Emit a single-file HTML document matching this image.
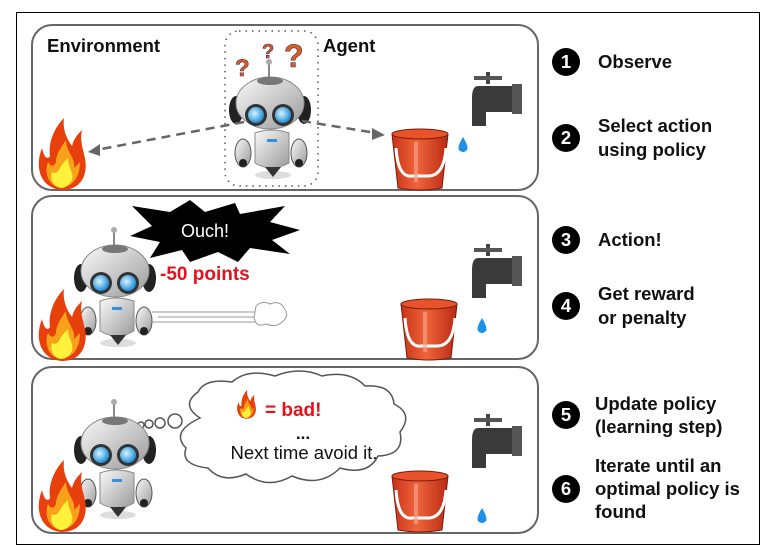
<!DOCTYPE html>
<html><head><meta charset="utf-8"><style>
html,body{margin:0;padding:0;background:#fff;}
svg{display:block;font-family:"Liberation Sans",Arial,sans-serif;}
</style></head><body>
<svg width="770" height="554" viewBox="0 0 770 554">
<defs>
<linearGradient id="hg" x1="0" y1="0" x2="1" y2="1"><stop offset="0" stop-color="#fafafa"/><stop offset="1" stop-color="#9a9a9a"/></linearGradient>
<radialGradient id="eg" cx="0.4" cy="0.4" r="0.6"><stop offset="0" stop-color="#d8f4ff"/><stop offset="1" stop-color="#1e8fd8"/></radialGradient>
<linearGradient id="bg" x1="0" y1="0" x2="1" y2="0"><stop offset="0" stop-color="#c8321a"/><stop offset="0.45" stop-color="#f0643a"/><stop offset="1" stop-color="#b82a14"/></linearGradient>
<g id="robot">
<ellipse cx="4" cy="60" rx="18" ry="4" fill="#ddd"/>
<line x1="0" y1="-38" x2="0" y2="-52" stroke="#888" stroke-width="2"/>
<circle cx="0" cy="-53" r="3" fill="#aaa"/>
<ellipse cx="-33" cy="-5" rx="7" ry="14" fill="#222"/>
<ellipse cx="35" cy="-5" rx="7" ry="14" fill="#222"/>
<ellipse cx="1" cy="-12" rx="34" ry="26" fill="url(#hg)" stroke="#888" stroke-width="1"/>
<ellipse cx="1" cy="-34" rx="13" ry="4" fill="#777"/>
<circle cx="-13" cy="0" r="11" fill="#333"/><circle cx="-13" cy="0" r="8" fill="url(#eg)"/>
<circle cx="14" cy="0" r="11" fill="#333"/><circle cx="14" cy="0" r="8" fill="url(#eg)"/>
<path d="M-14 18 Q2 12 20 18 L20 48 Q2 58 -14 48 Z" fill="url(#hg)" stroke="#888"/>
<rect x="-2" y="24" width="10" height="3" fill="#3a8fd8"/>
<ellipse cx="-26" cy="38" rx="8" ry="14" fill="url(#hg)" stroke="#555"/>
<ellipse cx="30" cy="38" rx="8" ry="14" fill="url(#hg)" stroke="#555"/>
<circle cx="-26" cy="48" r="4" fill="#222"/><circle cx="30" cy="48" r="4" fill="#222"/>
<path d="M-4 52 L12 52 L4 62 Z" fill="#333"/>
</g>
<g id="fire">
<path d="M25 72 C5 70 -2 50 6 30 C8 40 12 42 14 38 C12 25 18 10 28 0 C26 15 34 25 36 28 C38 20 42 16 46 12 C42 30 54 40 48 58 C44 68 36 72 25 72 Z" fill="#e8400c"/>
<path d="M25 70 C12 68 8 54 12 44 C16 50 18 48 20 44 C20 36 26 28 30 22 C30 34 40 40 38 50 C40 48 42 46 44 44 C44 58 38 68 25 70 Z" fill="#f7a21a"/>
<path d="M25 70 C16 68 14 60 16 54 C20 56 22 54 24 50 C26 46 30 42 32 40 C32 50 38 54 36 62 C34 66 30 70 25 70 Z" fill="#fff23a"/>
</g>
<g id="bucket">
<path d="M0 6 L56 6 L50 60 Q28 64 6 60 Z" fill="url(#bg)" stroke="#7a1a0a"/>
<ellipse cx="28" cy="6" rx="28" ry="5" fill="#e8532c" stroke="#7a1a0a"/>
<path d="M4 20 Q6 50 20 48 L36 48 Q52 48 54 20" fill="none" stroke="#fff" stroke-width="3"/>
<rect x="22" y="14" width="4" height="40" fill="#f7a08a" opacity="0.7"/>
</g>
<g id="tap">
<rect x="14" y="0" width="4" height="12" fill="#444"/>
<path d="M2 4 L30 4 L30 8 L2 8 Z" fill="#555"/>
<path d="M6 14 L40 14 L40 40 L14 40 L14 54 L0 54 L0 26 Q0 14 6 14 Z" fill="#3a3a3a"/>
<rect x="40" y="12" width="10" height="30" fill="#555"/>
</g>
<g id="drop"><path d="M0 -8 Q6 2 4 5 Q0 9 -4 5 Q-6 2 0 -8 Z" fill="#1e90e8"/></g>
</defs>

<rect x="16.5" y="12.5" width="743" height="532" fill="#fff" stroke="#000" stroke-width="1"/>
<rect x="32" y="25" width="506" height="165" rx="20" fill="none" stroke="#666" stroke-width="2"/>
<rect x="32" y="196" width="506" height="163" rx="20" fill="none" stroke="#666" stroke-width="2"/>
<rect x="32" y="367" width="506" height="166" rx="20" fill="none" stroke="#666" stroke-width="2"/>

<!-- Panel 1 -->
<text x="47" y="52" font-size="18.5" font-weight="bold" fill="#111">Environment</text>
<text x="323" y="52" font-size="18.5" font-weight="bold" fill="#111">Agent</text>
<rect x="225" y="31" width="93" height="155" rx="14" fill="none" stroke="#555" stroke-width="1.5" stroke-dasharray="1.5 5"/>
<text x="235" y="76" font-size="24" font-weight="bold" fill="#d8601a" stroke="#4a2a60" stroke-width="0.6">?</text>
<text x="262" y="58" font-size="20" font-weight="bold" fill="#d8601a" stroke="#4a2a60" stroke-width="0.6">?</text>
<text x="284" y="67" font-size="32" font-weight="bold" fill="#d8601a" stroke="#4a2a60" stroke-width="0.6">?</text>
<use href="#robot" x="269" y="115"/>
<line x1="244" y1="122" x2="96" y2="150" stroke="#666" stroke-width="2.5" stroke-dasharray="9 6"/>
<path d="M88 152 L100 144 L100 156 Z" fill="#666"/>
<line x1="302" y1="121" x2="376" y2="133" stroke="#666" stroke-width="2.5" stroke-dasharray="9 6"/>
<path d="M385 135 L372 128 L372 140 Z" fill="#666"/>
<use href="#fire" x="36" y="118"/>
<use href="#bucket" x="392" y="128"/>
<use href="#tap" x="472" y="72"/>
<use href="#drop" x="463" y="145"/>

<!-- Panel 2 -->
<path d="M132 206 L170 212 L190 200 L205 212 L235 203 L240 214 L285 206 L270 222 L300 230 L272 240 L290 254 L250 248 L238 262 L218 252 L190 262 L182 250 L150 258 L160 242 L130 236 L152 226 Z" fill="#000"/>
<text x="205" y="237" font-size="18" fill="#fff" text-anchor="middle">Ouch!</text>
<text x="160" y="280" font-size="19" font-weight="bold" fill="#e8101a">-50 points</text>
<use href="#robot" x="114" y="283"/>
<line x1="152" y1="312" x2="255" y2="312" stroke="#999"/>
<line x1="158" y1="317" x2="255" y2="317" stroke="#999"/>
<line x1="152" y1="322" x2="255" y2="322" stroke="#999"/>
<path d="M256 306 Q262 300 270 304 Q280 300 284 308 Q290 316 282 322 Q276 328 266 324 Q256 328 254 318 Z" fill="#fff" stroke="#999"/>
<use href="#fire" x="36" y="289"/>
<use href="#bucket" x="401" y="298"/>
<use href="#tap" x="472" y="244"/>
<use href="#drop" x="482" y="326"/>

<!-- Panel 3 -->
<path d="M200 418 Q180 405 198 392 Q205 378 232 382 Q248 368 275 376 Q300 366 322 376 Q350 370 365 386 Q392 384 394 404 Q414 414 400 432 Q405 455 378 456 Q368 476 340 468 Q320 488 292 476 Q268 490 246 474 Q222 484 208 468 Q180 465 186 448 Q170 432 200 418 Z" fill="#fff" stroke="#555" stroke-width="1.5"/>
<circle cx="175" cy="421" r="7" fill="#fff" stroke="#555" stroke-width="1.5"/>
<circle cx="160" cy="423" r="5" fill="#fff" stroke="#555" stroke-width="1.5"/>
<circle cx="149" cy="424" r="4" fill="#fff" stroke="#555" stroke-width="1.5"/>
<circle cx="141" cy="425" r="3" fill="#fff" stroke="#555" stroke-width="1.5"/>
<use href="#fire" transform="translate(236,390) scale(0.4)"/>
<text x="265" y="416" font-size="19" font-weight="bold" fill="#e8101a">= bad!</text>
<text x="303" y="439" font-size="17" font-weight="bold" fill="#111" text-anchor="middle">...</text>
<text x="304" y="459" font-size="18.5" fill="#111" text-anchor="middle">Next time avoid it.</text>
<use href="#robot" x="114" y="455"/>
<use href="#fire" x="36" y="460"/>
<use href="#bucket" x="392" y="470"/>
<use href="#tap" x="472" y="414"/>
<use href="#drop" x="482" y="516"/>

<!-- Right steps -->
<g font-size="18.5" font-weight="bold" fill="#111">
<circle cx="566" cy="62" r="14" fill="#000"/><text x="566" y="68" fill="#fff" text-anchor="middle">1</text>
<text x="598" y="68">Observe</text>
<circle cx="566" cy="138" r="14" fill="#000"/><text x="566" y="144" fill="#fff" text-anchor="middle">2</text>
<text x="598" y="132">Select action</text><text x="598" y="156">using policy</text>
<circle cx="566" cy="240" r="14" fill="#000"/><text x="566" y="246" fill="#fff" text-anchor="middle">3</text>
<text x="598" y="246">Action!</text>
<circle cx="566" cy="306" r="14" fill="#000"/><text x="566" y="312" fill="#fff" text-anchor="middle">4</text>
<text x="598" y="300">Get reward</text><text x="598" y="324">or penalty</text>
<circle cx="566" cy="415" r="14" fill="#000"/><text x="566" y="421" fill="#fff" text-anchor="middle">5</text>
<text x="595" y="410">Update policy</text><text x="595" y="433">(learning step)</text>
<circle cx="566" cy="489" r="14" fill="#000"/><text x="566" y="495" fill="#fff" text-anchor="middle">6</text>
<text x="595" y="472">Iterate until an</text><text x="595" y="495">optimal policy is</text><text x="595" y="518">found</text>
</g>
</svg>
</body></html>
